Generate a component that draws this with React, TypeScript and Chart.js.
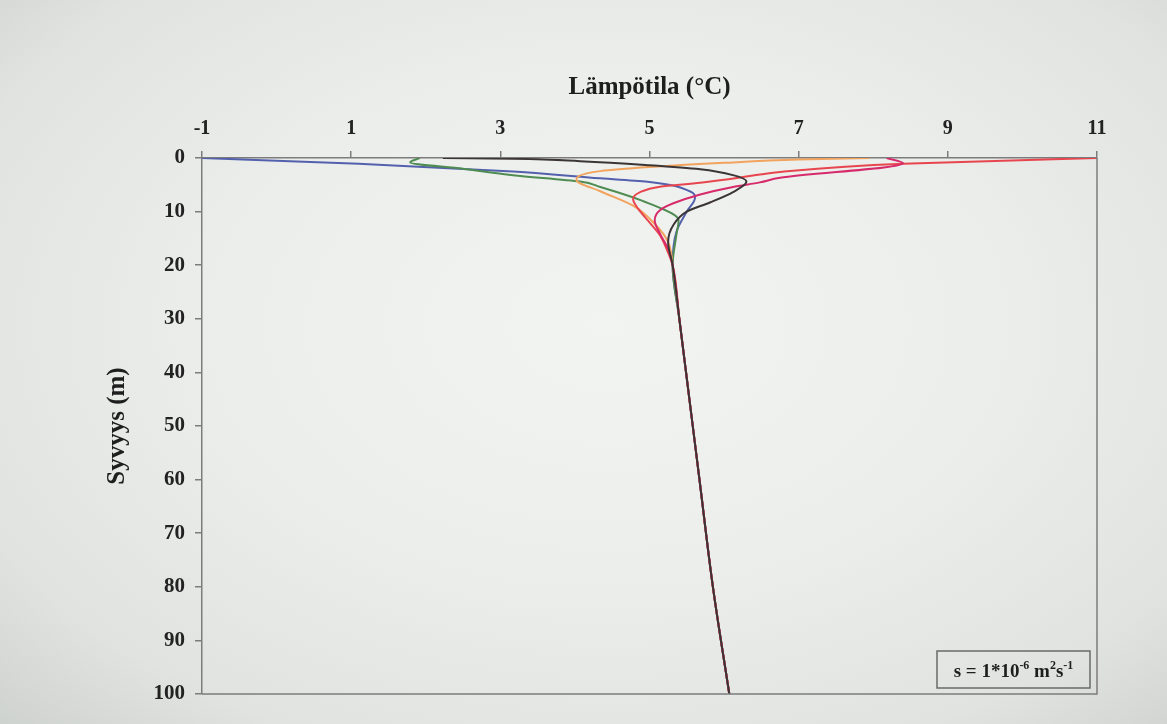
import React, { useEffect, useRef } from 'react';
import { Chart, registerables } from 'chart.js';

Chart.register(...registerables);

// Axis tick values
const tempTicks = [-1, 1, 3, 5, 7, 9, 11];
const depthTicks = [0, 10, 20, 30, 40, 50, 60, 70, 80, 90, 100];

// Common deep part (all profiles merge below ~20 m)
const deepTemp = [5.31, 5.4, 5.49, 5.67, 5.85, 6.07];
const deepDepth = [20, 30, 40, 60, 80, 100];

// Upper part of each temperature profile (temperature °C, depth m)
const blackTemp = [2.23, 3.17, 4.07, 5.0, 5.68, 6.12, 6.3, 6.12, 5.81, 5.5, 5.32, 5.25];
const blackDepth = [0, 0.15, 0.6, 1.35, 2.1, 3.2, 4.4, 6.35, 8.3, 10.0, 12.5, 15.7];

const pinkTemp = [8.18, 8.4, 6.75, 6.48, 6.12, 5.68, 5.32, 5.14, 5.07, 5.14, 5.25];
const pinkDepth = [0, 1.0, 3.7, 4.55, 5.4, 6.8, 8.45, 9.75, 11.6, 14.1, 17.0];

const redTemp = [11, 8.4, 6.75, 6.48, 5.68, 5.14, 4.87, 4.78, 4.85, 5.0, 5.14, 5.23];
const redDepth = [0, 1.07, 2.6, 3.1, 4.6, 5.35, 6.4, 7.65, 9.5, 12.0, 14.4, 17.0];

const orangeTemp = [7.95, 7.0, 6.0, 5.0, 4.34, 4.05, 4.02, 4.34, 4.78, 5.09, 5.25];
const orangeDepth = [0, 0.3, 0.9, 1.7, 2.45, 3.4, 4.1, 6.2, 8.9, 12.6, 15.7];

const greenTemp = [1.92, 1.79, 2.5, 3.17, 4.07, 4.34, 5.0, 5.39, 5.36];
const greenDepth = [0, 0.8, 2.0, 3.2, 4.4, 5.4, 8.5, 11.6, 14.4];

const blueTemp = [-1, 1.1, 3.17, 4.34, 5.0, 5.54, 5.61, 5.5, 5.36];
const blueDepth = [0, 1.06, 2.5, 3.8, 4.46, 6.2, 7.4, 10.0, 13.8];

// first listed is drawn on top
const seriesTemps = [blackTemp, pinkTemp, redTemp, orangeTemp, greenTemp, blueTemp];
const seriesDepths = [blackDepth, pinkDepth, redDepth, orangeDepth, greenDepth, blueDepth];
const seriesColors = ['#3b3536', '#d62a6b', '#e8464f', '#f2a35e', '#4f8c52', '#5361ad'];

const FONT = "'Liberation Serif', 'Times New Roman', serif";
const AXIS_COLOR = '#7c7c7c';

const boxPlugin = {
  id: 'boxAndNote',
  afterDraw(chart: any) {
    const { ctx, chartArea } = chart;
    ctx.save();
    // right & bottom frame of the plot area
    ctx.strokeStyle = AXIS_COLOR;
    ctx.lineWidth = 1.5;
    ctx.beginPath();
    ctx.moveTo(chartArea.right, chartArea.top);
    ctx.lineTo(chartArea.right, chartArea.bottom);
    ctx.lineTo(chartArea.left, chartArea.bottom);
    ctx.stroke();

    // annotation box
    const bx = chartArea.right - 160;
    const by = chartArea.bottom - 43;
    const bw = 153;
    const bh = 37;
    ctx.strokeStyle = '#6a6a6a';
    ctx.lineWidth = 1.5;
    ctx.strokeRect(bx, by, bw, bh);

    const parts: [string, boolean][] = [
      ['s = 1*10', false],
      ['-6', true],
      [' m', false],
      ['2', true],
      ['s', false],
      ['-1', true],
    ];
    const mainFont = `bold 19px ${FONT}`;
    const supFont = `bold 12px ${FONT}`;
    let total = 0;
    for (const [t, sup] of parts) {
      ctx.font = sup ? supFont : mainFont;
      total += ctx.measureText(t).width;
    }
    let x = bx + (bw - total) / 2;
    const baseY = by + bh / 2 + 7;
    ctx.fillStyle = '#1e1e1e';
    ctx.textBaseline = 'alphabetic';
    ctx.textAlign = 'left';
    for (const [t, sup] of parts) {
      ctx.font = sup ? supFont : mainFont;
      ctx.fillText(t, x, sup ? baseY - 8 : baseY);
      x += ctx.measureText(t).width;
    }
    ctx.restore();
  },
};

export default function App() {
  const canvasRef = useRef<HTMLCanvasElement | null>(null);

  useEffect(() => {
    document.body.style.margin = '0';
    const canvas = canvasRef.current;
    if (!canvas) return;

    const datasets = seriesTemps.map((temps, i) => {
      const allT = temps.concat(deepTemp);
      const allZ = seriesDepths[i].concat(deepDepth);
      return {
        label: `profile ${i + 1}`,
        data: allT.map((t, j) => ({ x: t, y: allZ[j] })),
        borderColor: seriesColors[i],
        backgroundColor: seriesColors[i],
        borderWidth: 2,
        pointRadius: 0,
        fill: false,
        cubicInterpolationMode: 'monotone' as const,
      };
    });

    const chart = new Chart(canvas, {
      type: 'line',
      data: { datasets },
      plugins: [boxPlugin],
      options: {
        animation: false,
        responsive: false,
        indexAxis: 'y',
        layout: { padding: { top: 0, left: 0, right: 70, bottom: 30 } },
        plugins: {
          legend: { display: false },
          tooltip: { enabled: false },
        },
        scales: {
          x: {
            type: 'linear',
            position: 'top',
            min: -1,
            max: 11,
            afterBuildTicks: (s: any) => {
              s.ticks = tempTicks.map((v) => ({ value: v }));
            },
            afterFit: (s: any) => {
              s.height = 158;
            },
            ticks: {
              font: { family: FONT, size: 20, weight: 'bold' },
              color: '#222',
              padding: 10,
              maxRotation: 0,
              autoSkip: false,
            },
            grid: {
              drawOnChartArea: false,
              drawTicks: true,
              tickLength: 7,
              color: AXIS_COLOR,
              lineWidth: 1.5,
            },
            border: { display: true, color: AXIS_COLOR, width: 1.5 },
            title: {
              display: true,
              text: 'Lämpötila (°C)',
              font: { family: FONT, size: 25, weight: 'bold' },
              color: '#1e1e1e',
              padding: { top: 73, bottom: 0 },
            },
          },
          y: {
            type: 'linear',
            reverse: true,
            min: 0,
            max: 100,
            afterBuildTicks: (s: any) => {
              s.ticks = depthTicks.map((v) => ({ value: v }));
            },
            afterFit: (s: any) => {
              s.width = 202;
            },
            ticks: {
              font: { family: FONT, size: 21, weight: 'bold' },
              color: '#222',
              padding: 10,
              autoSkip: false,
            },
            grid: {
              drawOnChartArea: false,
              drawTicks: true,
              tickLength: 7,
              color: AXIS_COLOR,
              lineWidth: 1.5,
            },
            border: { display: true, color: AXIS_COLOR, width: 1.5 },
            title: {
              display: true,
              text: 'Syvyys (m)',
              font: { family: FONT, size: 25, weight: 'bold' },
              color: '#1e1e1e',
              padding: { top: 103, bottom: 0 },
            },
          },
        },
      } as any,
    });

    return () => {
      chart.destroy();
    };
  }, []);

  return (
    <div
      style={{
        position: 'fixed',
        left: 0,
        top: 0,
        width: 1167,
        height: 724,
        background:
          'radial-gradient(ellipse at 52% 45%, #f2f4f2 0%, #eceeec 45%, #e0e3e0 80%, #cfd3cf 100%)',
      }}
    >
      <canvas ref={canvasRef} width={1167} height={724} style={{ display: 'block' }} />
    </div>
  );
}
